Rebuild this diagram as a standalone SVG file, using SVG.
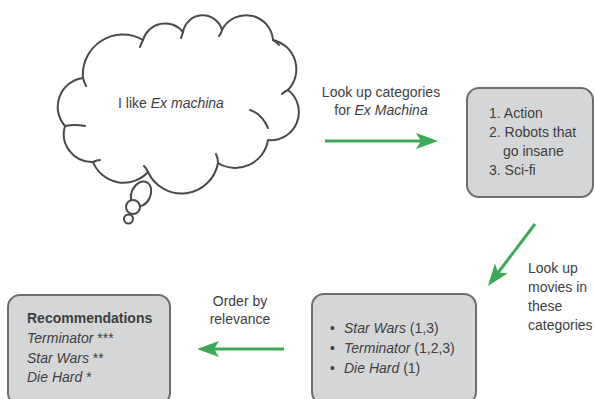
<svg xmlns="http://www.w3.org/2000/svg" width="595" height="399" viewBox="0 0 595 399">
<defs>
<style>
text{font-family:"Liberation Sans",Arial,Helvetica,sans-serif;font-size:14px;fill:#3e3e3e;}
.it{font-style:italic;}
.b{font-weight:bold;}
.box{fill:#d5d6d8;stroke:#6e6e6e;stroke-width:2;}
.cloud{fill:#ffffff;stroke:#4a4a4a;stroke-width:2;stroke-linejoin:round;}
.hook{fill:none;stroke:#4a4a4a;stroke-width:2;stroke-linecap:round;}
.conn{stroke:#3ca858;stroke-width:3;fill:none;}
</style>
<marker id="ah" markerUnits="userSpaceOnUse" viewBox="0 0 22 16" refX="12" refY="8" markerWidth="22" markerHeight="16" orient="auto">
<path d="M0,0 L22,8 L0,16 L5,8 Z" fill="#3ca858"/>
</marker>
</defs>
<rect width="595" height="399" fill="#ffffff"/>

<g id="thought">
<ellipse class="cloud" cx="141" cy="194" rx="9.5" ry="13" transform="rotate(25 141 194)"/>
<circle class="cloud" cx="133" cy="207" r="7"/>
<circle class="cloud" cx="128.5" cy="219" r="4.5"/>
<path class="cloud" d="M83,78 A40,40 0 0 1 143,40 A23,23 0 0 1 183,32 A20,20 0 0 1 222,30 A27,27 0 0 1 273,40 A30,30 0 0 1 288,90 A28,28 0 0 1 268,140 A33,33 0 0 1 218,163 A37,37 0 0 1 148,172 A33,33 0 0 1 93,162 A28,28 0 0 1 65,126 A29,29 0 0 1 83,78 Z"/>
<path class="hook" d="M143,40 Q141,44 140,47 M183,32 Q182,36 181,38 M222,30 Q221,34 219,36 M273,40 Q277,42 279,45 M288,90 Q285,91 282,94 M250,110 Q262,114 268,128 M218,163 Q218,158 216,154 M148,172 Q146,168 144,166 M93,162 Q97,160 100,160 M65,126 Q75,124 85,126 M83,78 Q84,82 86,86"/>
<text x="171" y="108" text-anchor="middle">I like <tspan class="it">Ex machina</tspan></text>
</g>

<g id="categories">
<rect class="box" x="467" y="88" width="126" height="109" rx="12" ry="12"/>
<text x="489" y="118">1. Action</text>
<text x="489" y="137">2. Robots that</text>
<text x="503" y="156">go insane</text>
<text x="489" y="175">3. Sci-fi</text>
</g>

<g id="movies">
<rect class="box" x="312" y="294" width="164" height="110" rx="12" ry="12"/>
<text x="330" y="333">•</text>
<text x="344" y="333"><tspan class="it">Star Wars</tspan> (1,3)</text>
<text x="330" y="353">•</text>
<text x="344" y="353"><tspan class="it">Terminator</tspan> (1,2,3)</text>
<text x="330" y="373">•</text>
<text x="344" y="373"><tspan class="it">Die Hard</tspan> (1)</text>
</g>

<g id="recommendations">
<rect class="box" x="8" y="295" width="162" height="110" rx="12" ry="12"/>
<text x="27" y="323" class="b">Recommendations</text>
<text x="27" y="343"><tspan class="it">Terminator</tspan> ***</text>
<text x="27" y="363"><tspan class="it">Star Wars</tspan> **</text>
<text x="27" y="382"><tspan class="it">Die Hard</tspan> *</text>
</g>

<g id="connectors">
<line class="conn" x1="325" y1="141" x2="428" y2="141" marker-end="url(#ah)"/>
<text x="381" y="97" text-anchor="middle">Look up categories</text>
<text x="381" y="115" text-anchor="middle">for <tspan class="it">Ex Machina</tspan></text>
<line class="conn" x1="535" y1="224" x2="494" y2="278" marker-end="url(#ah)"/>
<text x="528" y="273">Look up</text>
<text x="528" y="292">movies in</text>
<text x="528" y="311">these</text>
<text x="528" y="330">categories</text>
<line class="conn" x1="284" y1="349" x2="207" y2="349" marker-end="url(#ah)"/>
<text x="240" y="306" text-anchor="middle">Order by</text>
<text x="240" y="324" text-anchor="middle">relevance</text>
</g>
</svg>
